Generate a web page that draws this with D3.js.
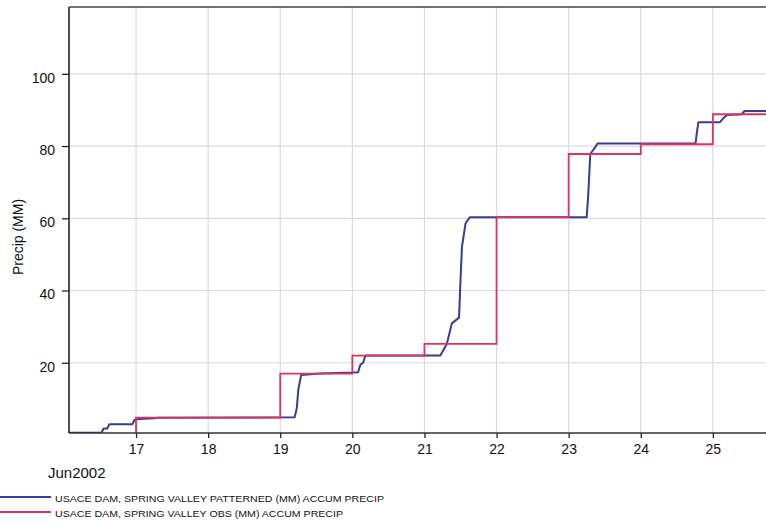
<!DOCTYPE html>
<html>
<head>
<meta charset="utf-8">
<script src="https://cdn.jsdelivr.net/npm/d3@7/dist/d3.min.js"></script>
<style>
  html, body { margin: 0; padding: 0; background: #fff; }
  svg { display: block; }
  text { font-family: "Liberation Sans", Arial, Helvetica, sans-serif; fill: #111; }
</style>
</head>
<body>
<svg id="chart" width="766" height="525"></svg>
<script>
// ---- data (day of June 2002, accumulated precip in mm) ----
const xTicks = [17, 18, 19, 20, 21, 22, 23, 24, 25];
const yTicks = [20, 40, 60, 80, 100];
const xAxisTitle = "Jun2002";
const yAxisTitle = "Precip (MM)";
const seriesNames = [
  "USACE DAM, SPRING VALLEY PATTERNED (MM) ACCUM PRECIP",
  "USACE DAM, SPRING VALLEY OBS (MM) ACCUM PRECIP"
];

// PATTERNED series (blue)
const patternedTime = [16.07, 16.52, 16.55, 16.6, 16.63, 16.95, 16.98, 17.05, 17.25, 17.3,
  19.2, 19.23, 19.25, 19.29, 19.55, 20.0, 20.08, 20.11, 20.15, 20.18,
  21.22, 21.31, 21.38, 21.48, 21.5, 21.52, 21.57, 21.63,
  23.25, 23.27, 23.3, 23.36, 23.4, 24.0, 24.76, 24.78, 24.8,
  25.1, 25.15, 25.2, 25.4, 25.44, 26.0];
const patternedValue = [0.6, 0.6, 1.8, 1.8, 3.0, 3.0, 4.2, 4.4, 4.6, 4.8,
  4.9, 7.5, 12.5, 16.6, 17.0, 17.3, 17.4, 19.4, 20.0, 22.0,
  22.0, 25.2, 30.9, 32.5, 42.9, 52.1, 58.6, 60.3,
  60.3, 66.0, 77.8, 79.4, 80.7, 80.7, 80.7, 84.0, 86.6,
  86.6, 87.8, 88.6, 88.8, 89.7, 89.7];

// OBS series (red), step values
const obsTime = [17.0, 17.0, 19.0, 20.0, 21.0, 22.0, 23.0, 24.0, 25.0, 26.0];
const obsValue = [0.6, 4.8, 17.0, 22.0, 25.2, 60.3, 77.8, 80.5, 88.8, 88.6];

// ---- layout ----
const svg = d3.select("#chart");
const mLeft = 69, mTop = 7, mBottom = 433;
const x = d3.scaleLinear().domain([16.07, 26.0]).range([mLeft, mLeft + 9.93 * 72.1]);
const y = d3.scaleLinear().domain([0.55, 118.5]).range([mBottom, mTop]);
const mRight = x.range()[1];

const colBlue = "#3b3b95";
const colRed = "#e0325e";
const gridCol = "#d9d9e3";

svg.append("defs").append("clipPath").attr("id", "clip")
  .append("rect").attr("x", mLeft).attr("y", mTop).attr("width", mRight - mLeft).attr("height", mBottom - mTop);

// grid
const grid = svg.append("g");
grid.selectAll("line.v").data(xTicks).join("line").attr("class", "v")
  .attr("x1", d => x(d)).attr("x2", d => x(d))
  .attr("y1", mTop).attr("y2", mBottom)
  .attr("stroke", gridCol).attr("stroke-width", 1.2);
grid.selectAll("line.h").data(yTicks).join("line").attr("class", "h")
  .attr("x1", mLeft).attr("x2", mRight)
  .attr("y1", d => y(d)).attr("y2", d => y(d))
  .attr("stroke", gridCol).attr("stroke-width", 1.2);

// lines
const plot = svg.append("g").attr("clip-path", "url(#clip)");
const blueData = patternedTime.map((t, i) => [t, patternedValue[i]]);
const redData = obsTime.map((t, i) => [t, obsValue[i]]);

plot.append("path").datum(blueData)
  .attr("fill", "none").attr("stroke", colBlue).attr("stroke-width", 2)
  .attr("stroke-linejoin", "round")
  .attr("d", d3.line().x(d => x(d[0])).y(d => y(d[1])));
plot.append("path").datum(redData)
  .attr("fill", "none").attr("stroke", colRed).attr("stroke-width", 1.8)
  .attr("d", d3.line().curve(d3.curveStepAfter).x(d => x(d[0])).y(d => y(d[1])));

// axes
const xAxis = d3.axisBottom(x).tickValues(xTicks).tickFormat(d3.format("d")).tickSize(5).tickPadding(6);
const gx = svg.append("g").attr("transform", `translate(0,${mBottom})`).call(xAxis);
gx.select(".domain").remove();
gx.selectAll(".tick line").attr("stroke", "#222").attr("stroke-width", 1.3);
gx.selectAll(".tick text").attr("font-size", 14).attr("font-family", "Liberation Sans, Arial, sans-serif").attr("fill", "#111");

const yAxis = d3.axisLeft(y).tickValues(yTicks).tickFormat(d3.format("d")).tickSize(7).tickPadding(7);
const gy = svg.append("g").attr("transform", `translate(${mLeft},0)`).call(yAxis);
gy.select(".domain").remove();
gy.selectAll(".tick line").attr("stroke", "#222").attr("stroke-width", 1.3);
gy.selectAll(".tick text").attr("font-size", 14).attr("font-family", "Liberation Sans, Arial, sans-serif")
  .attr("fill", "#111").attr("dy", "0.6em");

// frame lines
svg.append("line").attr("x1", mLeft).attr("x2", mRight).attr("y1", mBottom).attr("y2", mBottom)
  .attr("stroke", "#333").attr("stroke-width", 1.6);
svg.append("line").attr("x1", mLeft).attr("x2", mLeft).attr("y1", mTop).attr("y2", mBottom)
  .attr("stroke", "#222").attr("stroke-width", 1.6);
svg.append("line").attr("x1", mLeft).attr("x2", mRight).attr("y1", mTop).attr("y2", mTop)
  .attr("stroke", "#444").attr("stroke-width", 1.3);

// axis titles
svg.append("text").attr("x", 48).attr("y", 478).attr("font-size", 15).text(xAxisTitle);
svg.append("text").attr("transform", "translate(23,237) rotate(-90)")
  .attr("text-anchor", "middle").attr("font-size", 14).text(yAxisTitle);

// legend
const legend = svg.append("g");
const legendRows = [
  { name: seriesNames[0], color: colBlue, ly: 497, ty: 502, w: 329 },
  { name: seriesNames[1], color: colRed, ly: 512, ty: 517, w: 288 }
];
legendRows.forEach(r => {
  legend.append("line").attr("x1", 0).attr("x2", 51).attr("y1", r.ly).attr("y2", r.ly)
    .attr("stroke", r.color).attr("stroke-width", 1.8);
  legend.append("text").attr("x", 55).attr("y", r.ty).attr("font-size", 9.5)
    .attr("textLength", r.w).attr("lengthAdjust", "spacingAndGlyphs").text(r.name);
});
</script>
</body>
</html>
